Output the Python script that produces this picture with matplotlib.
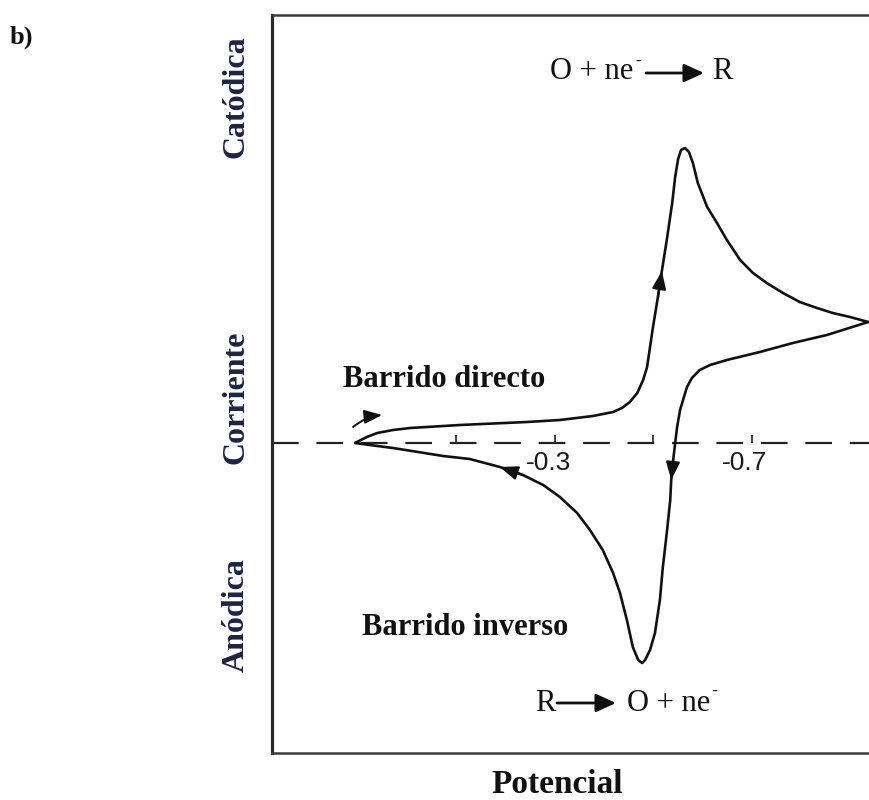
import matplotlib
matplotlib.use("Agg")
import matplotlib.pyplot as plt
from matplotlib.patches import FancyArrowPatch

# Cyclic voltammogram: potential (V) vs current (arbitrary units)
E_forward = [0.106, 0.082, 0.061, 0.029, -0.006, -0.107, -0.243, -0.310, -0.377,
             -0.418, -0.436, -0.452, -0.467, -0.479, -0.487, -0.493, -0.499,
             -0.509, -0.517, -0.527, -0.538, -0.544, -0.550, -0.556, -0.564,
             -0.572, -0.580, -0.590, -0.609, -0.629, -0.649, -0.676, -0.702,
             -0.730, -0.763, -0.797, -0.832, -0.864, -0.899, -0.936]
i_forward = [0.00, 0.06, 0.10, 0.13, 0.15, 0.18, 0.21, 0.23, 0.27,
             0.31, 0.35, 0.41, 0.50, 0.63, 0.76, 0.96, 1.16,
             1.46, 1.72, 2.03, 2.40, 2.66, 2.84, 2.93, 2.95,
             2.91, 2.80, 2.60, 2.36, 2.20, 2.03, 1.83, 1.70,
             1.60, 1.50, 1.41, 1.35, 1.30, 1.26, 1.21]

E_reverse = [-0.936, -0.852, -0.783, -0.716, -0.649, -0.615, -0.594, -0.578,
             -0.568, -0.560, -0.554, -0.548, -0.544, -0.540, -0.536, -0.534,
             -0.527, -0.519, -0.513, -0.503, -0.493, -0.483, -0.477, -0.469,
             -0.458, -0.446, -0.432, -0.418, -0.397, -0.371, -0.345, -0.310,
             -0.276, -0.235, -0.188, -0.127, -0.073, 0.029, 0.076, 0.106]
i_reverse = [1.21, 1.08, 1.00, 0.91, 0.83, 0.78, 0.73, 0.65,
             0.56, 0.43, 0.33, 0.16, 0.00, -0.17, -0.37, -0.57,
             -0.90, -1.24, -1.57, -1.90, -2.07, -2.17, -2.20, -2.17,
             -2.04, -1.77, -1.50, -1.30, -1.07, -0.87, -0.70, -0.54,
             -0.42, -0.32, -0.24, -0.16, -0.13, -0.05, -0.02, 0.00]

tick_values = [-0.1, -0.3, -0.5, -0.7]
tick_labels = {-0.3: "-0.3", -0.7: "-0.7"}

W, H = 869, 800
fig = plt.figure(figsize=(W / 100, H / 100), dpi=100)
fig.patch.set_facecolor("white")


def fx(x):
    return x / W


def fy(y):
    return 1 - y / H


ax = fig.add_axes([fx(272), fy(753), 1 - fx(272), (753 - 15) / H])
ax.set_xlim(0.2746, -0.9376)
ax.set_ylim(-3.10, 4.28)
ax.set_xticks([])
ax.set_yticks([])
ax.spines["right"].set_visible(False)
ax.spines["left"].set_linewidth(2.3)
ax.spines["left"].set_color("#2a2a2a")
for side in ("top", "bottom"):
    ax.spines[side].set_linewidth(1.8)
    ax.spines[side].set_color("#3a3a3a")

ink = "#111111"

# zero-current baseline
ax.axhline(0, color="#222222", lw=1.6, dashes=(12, 8), zorder=1)

# small upward ticks on the baseline with potential labels
for tv in tick_values:
    ax.plot([tv, tv], [0, 0.08], color="#222222", lw=1.2, solid_capstyle="butt")
    if tv in tick_labels:
        ax.annotate(tick_labels[tv], xy=(tv, 0), xytext=(-5, -6),
                    textcoords="offset points", ha="center", va="top",
                    fontsize=19, family="Liberation Sans", color="#1a1a1a")

# voltammogram
for Es, Is in ((E_forward, i_forward), (E_reverse, i_reverse)):
    ax.plot(Es, Is, color=ink, lw=1.9, solid_joinstyle="round",
            solid_capstyle="round", zorder=3, clip_on=False)


def head(Es, Is, k_tail, k_tip):
    ax.annotate("", xy=(Es[k_tip], Is[k_tip]), xytext=(Es[k_tail], Is[k_tail]),
                arrowprops=dict(arrowstyle="-|>,head_length=0.9,head_width=0.35",
                                color=ink, lw=1.6, shrinkA=0, shrinkB=0,
                                mutation_scale=12), zorder=4)


head(E_forward, i_forward, 17, 18)
head(E_reverse, i_reverse, 13, 14)
head(E_reverse, i_reverse, 33, 34)

# scan-start arrow
ax.annotate("", xy=(0.051, 0.28), xytext=(0.110, 0.16),
            arrowprops=dict(arrowstyle="-|>,head_length=0.9,head_width=0.35",
                            color=ink, lw=1.4, shrinkA=0, shrinkB=0,
                            mutation_scale=12,
                            connectionstyle="arc3,rad=-0.15"), zorder=4)

serif = ["Liberation Serif", "DejaVu Serif"]
navy = "#1d2340"

fig.text(fx(10), fy(44), "b)", fontsize=19, fontweight="bold", family=serif,
         ha="left", va="baseline", color="#111111")

for label, yc in [("Catódica", 97), ("Corriente", 397), ("Anódica", 615)]:
    fig.text(fx(236), fy(yc), label, rotation=90, fontsize=23, fontweight="bold",
             family=serif, ha="center", va="center", color=navy)

fig.text(fx(557), fy(793), "Potencial", fontsize=24, fontweight="bold",
         family=serif, ha="center", va="baseline", color="#111111")

fig.text(fx(343), fy(387), "Barrido directo", fontsize=22, fontweight="bold",
         family=serif, ha="left", va="baseline", color="#111111")
fig.text(fx(362), fy(635), "Barrido inverso", fontsize=22, fontweight="bold",
         family=serif, ha="left", va="baseline", color="#111111")

# reaction equations
arrow_kw = dict(arrowstyle="-|>,head_length=1.1,head_width=0.5", color="#111111",
                lw=2.0, shrinkA=0, shrinkB=0, mutation_scale=11)

fig.text(fx(550), fy(79), "O + ne", fontsize=22, family=serif, ha="left",
         va="baseline", color="#111111")
fig.text(fx(635), fy(66), "-", fontsize=13, family=serif, ha="left",
         va="baseline", color="#111111")
fig.add_artist(FancyArrowPatch((fx(646), fy(73)), (fx(704), fy(73)),
                               transform=fig.transFigure, **arrow_kw))
fig.text(fx(712), fy(79), "R", fontsize=22, family=serif, ha="left",
         va="baseline", color="#111111")

fig.text(fx(535), fy(711), "R", fontsize=22, family=serif, ha="left",
         va="baseline", color="#111111")
fig.add_artist(FancyArrowPatch((fx(557), fy(703)), (fx(616), fy(703)),
                               transform=fig.transFigure, **arrow_kw))
fig.text(fx(627), fy(711), "O + ne", fontsize=22, family=serif, ha="left",
         va="baseline", color="#111111")
fig.text(fx(711), fy(696), "-", fontsize=13, family=serif, ha="left",
         va="baseline", color="#111111")

fig.savefig("out.png", dpi=100)
